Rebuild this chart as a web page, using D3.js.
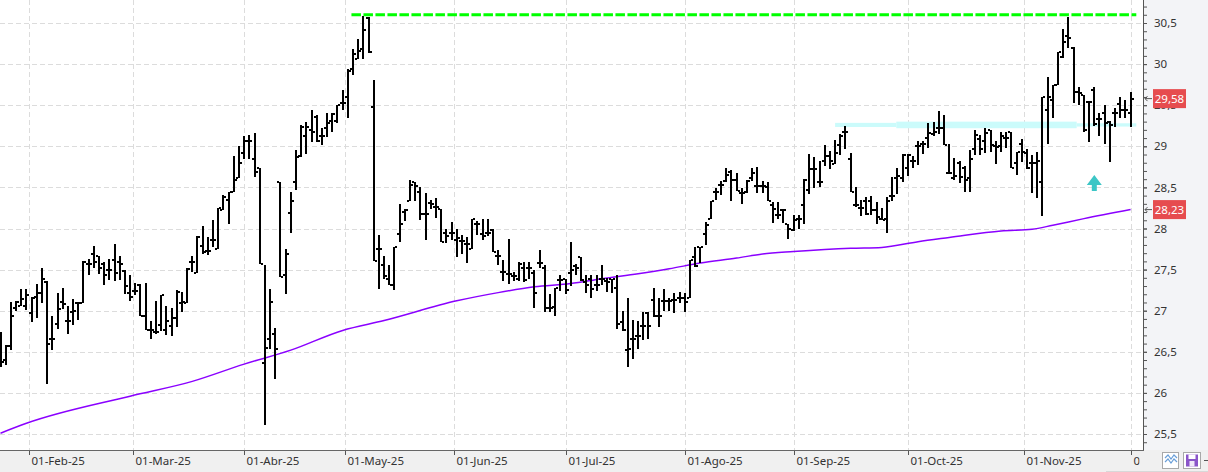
<!DOCTYPE html>
<html>
<head>
<meta charset="utf-8">
<script src="https://cdn.jsdelivr.net/npm/d3@7"></script>
<style>
  body { margin: 0; background: #fff; overflow: hidden; }
  svg { display: block; font-family: "Noto Sans", sans-serif; }
</style>
</head>
<body>
<svg width="1208" height="472"></svg>
<script>
// trading calendar (BME), first bar is 24-Jan-25
const firstDay = '2025-01-24';
const holidays = ['2025-04-18', '2025-04-21', '2025-05-01'];
const monthNames = ['Feb', 'Mar', 'Abr', 'May', 'Jun', 'Jul', 'Ago', 'Sep', 'Oct', 'Nov', 'Dic'];

// daily OHLC
const opens = [26.35,26.40,26.57,27.03,27.06,27.06,26.97,27.17,27.21,27.35,26.66,26.84,27.10,26.87,26.98,27.09,27.09,27.57,27.69,27.66,
  27.57,27.49,27.62,27.59,27.48,27.21,27.24,27.31,26.94,26.76,26.74,26.83,26.76,26.81,26.91,27.09,27.09,27.59,27.46,27.79,
  27.73,27.86,27.75,28.23,28.35,28.45,28.61,28.92,29.06,28.84,28.73,26.36,26.66,26.72,28.57,27.44,28.19,28.57,28.88,29.12,
  29.20,29.36,29.13,29.22,29.31,29.31,29.53,29.60,29.94,30.06,30.18,30.56,29.48,27.75,27.56,27.38,27.31,27.93,28.20,28.34,
  28.57,28.45,28.18,28.31,28.26,28.24,27.94,27.94,27.86,27.85,27.81,27.75,28.06,27.93,27.94,27.98,27.66,27.47,27.45,27.42,
  27.38,27.52,27.52,27.46,27.58,27.52,27.03,27.05,27.37,27.38,27.46,27.54,27.65,27.35,27.39,27.31,27.39,27.36,27.38,27.28,
  26.86,26.52,26.66,26.69,26.81,26.97,27.13,26.94,27.12,27.12,27.13,27.15,27.16,27.16,27.65,27.78,27.93,28.12,28.45,28.53,
  28.58,28.69,28.59,28.43,28.45,28.61,28.52,28.52,28.50,28.28,28.17,28.23,28.05,27.98,28.12,28.28,28.47,28.72,28.57,28.82,
  28.88,28.79,29.02,29.18,28.85,28.29,28.25,28.34,28.34,28.22,28.11,28.11,28.39,28.62,28.61,28.74,28.82,29.00,29.03,29.10,
  29.15,29.22,29.22,28.68,28.61,28.80,28.74,28.61,28.97,29.09,29.07,29.20,29.00,29.00,29.10,29.17,28.80,29.03,28.92,28.80,
  28.80,28.57,29.44,29.56,29.75,30.09,30.34,30.20,29.66,29.62,29.54,29.69,29.33,29.40,29.30,29.40,29.52,29.44,29.40];
const highs = [26.74,26.58,27.11,27.12,27.26,27.26,27.17,27.33,27.52,27.36,26.94,27.21,27.28,27.06,27.14,27.10,27.60,27.63,27.79,27.66,
  27.59,27.63,27.81,27.66,27.50,27.43,27.34,27.32,27.34,26.87,27.12,27.19,27.06,27.03,27.25,27.23,27.52,27.66,27.91,28.03,
  27.90,28.10,28.25,28.41,28.45,28.88,29.00,29.13,29.14,29.16,28.73,27.55,27.26,26.79,28.57,27.75,28.45,28.96,29.26,29.29,
  29.44,29.38,29.22,29.40,29.40,29.50,29.69,29.94,30.18,30.30,30.58,30.57,29.81,27.92,27.66,27.56,27.78,28.30,28.24,28.59,
  28.57,28.51,28.43,28.35,28.37,28.24,28.00,28.08,27.99,27.92,27.90,28.12,28.09,28.11,28.11,28.00,27.74,27.62,27.87,27.47,
  27.59,27.59,27.59,27.50,27.74,27.56,27.20,27.28,27.44,27.39,27.84,27.57,27.65,27.43,27.43,27.43,27.55,27.40,27.39,27.43,
  27.00,27.15,26.89,26.88,26.98,26.98,27.28,27.16,27.26,27.16,27.22,27.23,27.22,27.62,27.78,27.78,28.08,28.34,28.49,28.58,
  28.73,28.71,28.68,28.49,28.59,28.74,28.75,28.58,28.57,28.32,28.32,28.24,28.05,28.16,28.17,28.60,28.91,28.87,28.82,29.01,
  28.94,29.08,29.15,29.25,28.92,28.51,28.35,28.38,28.40,28.32,28.25,28.38,28.63,28.73,28.91,28.91,28.88,29.07,29.06,29.28,
  29.30,29.43,29.38,29.03,28.86,28.82,28.76,28.96,29.20,29.14,29.22,29.20,29.06,29.18,29.18,29.17,28.93,29.09,28.97,28.89,
  28.93,29.60,29.84,29.74,30.15,30.43,30.57,30.21,29.72,29.62,29.55,29.72,29.41,29.50,29.31,29.47,29.60,29.56,29.66];
const lows = [26.31,26.34,26.52,27.00,27.06,27.01,26.86,26.91,27.09,26.11,26.52,26.78,27.02,26.72,26.83,26.89,27.09,27.44,27.52,27.45,
  27.31,27.37,27.36,27.37,27.20,27.12,27.19,26.94,26.77,26.66,26.72,26.75,26.71,26.69,26.80,26.99,27.09,27.47,27.46,27.69,
  27.68,27.77,27.75,28.23,28.06,28.45,28.61,28.84,28.84,28.63,27.57,25.61,26.54,26.17,27.41,27.20,27.94,28.47,28.87,28.91,
  29.05,29.05,29.01,29.11,29.18,29.28,29.44,29.35,29.87,30.06,30.06,30.14,27.61,27.26,27.39,27.31,27.25,27.84,28.09,28.34,
  28.34,28.10,27.86,28.24,28.13,27.84,27.82,27.86,27.65,27.69,27.58,27.75,27.92,27.86,27.91,27.71,27.56,27.36,27.33,27.36,
  27.36,27.35,27.38,27.03,27.52,26.99,26.98,26.94,27.24,27.20,27.30,27.44,27.36,27.22,27.15,27.24,27.31,27.23,27.22,26.78,
  26.75,26.31,26.41,26.54,26.64,26.66,26.92,26.80,27.00,27.00,26.97,27.09,26.99,27.16,27.53,27.58,27.80,28.12,28.35,28.41,
  28.57,28.34,28.46,28.30,28.43,28.58,28.43,28.43,28.33,28.07,28.11,28.07,27.87,27.97,27.99,28.05,28.42,28.49,28.51,28.76,
  28.72,28.79,28.90,28.97,28.44,28.26,28.15,28.16,28.16,28.06,28.10,27.95,28.34,28.42,28.57,28.64,28.74,28.77,28.91,28.98,
  29.12,29.15,29.01,28.66,28.59,28.55,28.44,28.45,28.89,28.90,28.92,28.93,28.78,28.93,28.98,28.73,28.65,28.81,28.72,28.43,
  28.37,28.15,29.03,29.35,29.75,30.08,30.20,29.53,29.50,29.18,29.05,29.25,29.12,29.03,28.81,29.23,29.35,29.34,29.24];
const closes = [26.37,26.57,26.94,27.10,27.14,27.19,27.16,27.21,27.38,26.59,26.66,27.02,27.08,26.88,27.00,27.09,27.59,27.57,27.59,27.52,
  27.44,27.49,27.46,27.57,27.30,27.17,27.24,26.94,26.77,26.76,26.74,27.19,26.87,26.91,27.23,27.10,27.51,27.59,27.90,27.72,
  27.73,27.86,28.25,28.38,28.45,28.59,28.80,29.07,29.06,28.69,27.57,26.55,27.10,26.54,27.41,27.69,28.33,28.87,29.24,29.24,
  29.18,29.07,29.13,29.28,29.39,29.50,29.53,29.92,30.12,30.16,30.41,30.15,27.61,27.75,27.42,27.31,27.78,28.06,28.23,28.53,
  28.52,28.18,28.18,28.30,28.26,27.84,27.91,27.94,27.88,27.85,27.81,28.11,28.05,27.91,27.94,27.71,27.66,27.47,27.45,27.42,
  27.57,27.37,27.52,27.21,27.58,27.03,27.03,27.28,27.37,27.25,27.50,27.52,27.37,27.31,27.27,27.31,27.39,27.35,27.38,26.84,
  26.76,26.54,26.65,26.69,26.81,26.81,26.94,26.94,27.12,27.12,27.13,27.16,27.11,27.62,27.54,27.78,28.04,28.33,28.45,28.53,
  28.65,28.59,28.46,28.43,28.58,28.68,28.52,28.52,28.34,28.24,28.17,28.23,27.99,28.10,28.12,28.59,28.72,28.72,28.57,28.88,
  28.82,28.92,29.13,29.18,28.45,28.29,28.25,28.18,28.23,28.14,28.10,28.33,28.39,28.64,28.90,28.90,28.82,29.00,29.03,29.16,
  29.18,29.22,29.02,28.68,28.64,28.63,28.59,28.84,29.14,28.97,29.16,29.01,28.99,29.12,29.10,28.73,28.93,28.93,28.73,28.80,
  28.82,29.60,29.60,29.74,30.15,30.27,30.32,29.66,29.65,29.20,29.54,29.27,29.33,29.28,29.26,29.40,29.44,29.44,29.58];

// moving average, read at a set of bar indexes
const maDay = [0, 5, 25, 37, 47, 56, 66, 74, 88, 96, 103, 110, 116, 123, 129, 135, 142, 147, 153, 164, 170, 177, 183, 193, 199, 203, 209, 218];
const maValue = [25.51, 25.63, 25.96, 26.14, 26.35, 26.52, 26.76, 26.88, 27.12, 27.22, 27.29, 27.33, 27.39, 27.45, 27.51, 27.58, 27.64, 27.69, 27.72, 27.76, 27.77, 27.84, 27.89, 27.97, 27.99, 28.04, 28.12, 28.23];

// drawn objects
const resistanceLevel = 30.60;
const resistanceFrom = 67.7;
const resistanceTo = 219.1;
const zoneFrom = [161, 172.8, 207.6];
const zoneTo = [172.8, 207.6, 219.1];
const zoneLow = [29.235, 29.22, 29.24];
const zoneHigh = [29.285, 29.30, 29.28];
const signalDay = 211;
const signalPrice = 28.65;
const priceTags = [29.58, 28.23];

const svg = d3.select('svg');
const width = +svg.attr('width');
const height = +svg.attr('height');
const plotRight = 1143;
const plotBottom = 450;

// trading days
const parse = d3.utcParse('%Y-%m-%d');
const fmtDay = d3.utcFormat('%Y-%m-%d');
const days = [];
let d = parse(firstDay);
while (days.length < opens.length) {
  const wd = d.getUTCDay();
  if (wd !== 0 && wd !== 6 && !holidays.includes(fmtDay(d))) days.push(d);
  d = d3.utcDay.offset(d, 1);
}

const xScale = d3.scaleLinear().domain([0, opens.length - 1]).range([0.5, 1130.6]);
const yScale = d3.scaleLinear().domain([25.5, 30.5]).range([434, 23]);

// month ticks: first trading day of each month (half a bar earlier when the 1st is not a session)
const monthTicks = [];
monthNames.forEach((m, k) => {
  const first = new Date(Date.UTC(2025, k + 1, 1));
  const idx = days.findIndex(t => t >= first);
  if (idx < 0) return;
  const pos = fmtDay(days[idx]) === fmtDay(first) ? idx : idx - 0.5;
  monthTicks.push({ pos, label: '01-' + m + '-25' });
});

// backgrounds
svg.append('rect').attr('width', width).attr('height', height).attr('fill', '#fff');
svg.append('rect').attr('x', plotRight).attr('y', 0).attr('width', width - plotRight).attr('height', plotBottom).attr('fill', '#f3f4f7');
svg.append('rect').attr('x', 0).attr('y', plotBottom).attr('width', width).attr('height', height - plotBottom).attr('fill', '#f0f0f0');

svg.append('clipPath').attr('id', 'plot')
  .append('rect').attr('width', plotRight).attr('height', plotBottom);

const g = svg.append('g').attr('clip-path', 'url(#plot)');

// grid
const priceGrid = d3.range(25.5, 30.51, 0.5);
g.selectAll('.hgrid').data(priceGrid).enter().append('line')
  .attr('x1', 0).attr('x2', plotRight)
  .attr('y1', v => Math.round(yScale(v)) + 0.5).attr('y2', v => Math.round(yScale(v)) + 0.5)
  .attr('stroke', '#dcdcdc').attr('stroke-dasharray', '5,3');
g.selectAll('.vgrid').data(monthTicks).enter().append('line')
  .attr('y1', 0).attr('y2', plotBottom)
  .attr('x1', t => Math.round(xScale(t.pos)) + 0.5).attr('x2', t => Math.round(xScale(t.pos)) + 0.5)
  .attr('stroke', '#dcdcdc').attr('stroke-dasharray', '5,3');

// support zone
g.selectAll('.zone').data(zoneFrom).enter().append('rect')
  .attr('x', (f, i) => xScale(f))
  .attr('width', (f, i) => xScale(zoneTo[i]) - xScale(f))
  .attr('y', (f, i) => yScale(zoneHigh[i]))
  .attr('height', (f, i) => yScale(zoneLow[i]) - yScale(zoneHigh[i]))
  .attr('fill', '#cbfbfb');

// moving average
const maLine = d3.line()
  .x((v, i) => xScale(maDay[i]))
  .y(v => yScale(v))
  .curve(d3.curveMonotoneX);
g.append('path').datum(maValue)
  .attr('d', maLine)
  .attr('fill', 'none')
  .attr('stroke', '#8a00ff')
  .attr('stroke-width', 1.5);

// resistance
g.append('line')
  .attr('x1', xScale(resistanceFrom)).attr('x2', xScale(resistanceTo))
  .attr('y1', yScale(resistanceLevel)).attr('y2', yScale(resistanceLevel))
  .attr('stroke', '#00ff00').attr('stroke-width', 3).attr('stroke-dasharray', '9.5,2.5');

// OHLC bars
const bars = g.append('g').attr('shape-rendering', 'crispEdges').attr('fill', '#000');
const bx = i => Math.round(xScale(i));
bars.selectAll('.hl').data(opens).enter().append('rect')
  .attr('x', (o, i) => bx(i) - 1).attr('width', 2)
  .attr('y', (o, i) => Math.round(yScale(highs[i])))
  .attr('height', (o, i) => Math.max(2, Math.round(yScale(lows[i])) - Math.round(yScale(highs[i]))));
bars.selectAll('.op').data(opens).enter().append('rect')
  .attr('x', (o, i) => bx(i) - 3).attr('width', 2)
  .attr('y', o => Math.round(yScale(o)) - 1).attr('height', 2);
bars.selectAll('.cl').data(closes).enter().append('rect')
  .attr('x', (c, i) => bx(i) + 1).attr('width', 2)
  .attr('y', c => Math.round(yScale(c)) - 1).attr('height', 2);

// signal arrow
const sx = xScale(signalDay);
const sy = yScale(signalPrice);
g.append('path')
  .attr('d', `M${sx},${sy} L${sx + 7.5},${sy + 10} L${sx + 2.5},${sy + 10} L${sx + 2.5},${sy + 16} L${sx - 2.5},${sy + 16} L${sx - 2.5},${sy + 10} L${sx - 7.5},${sy + 10} Z`)
  .attr('fill', '#3cc6c6');

// right price axis
const fmtPrice = v => d3.format('~g')(v).replace('.', ',');
const minor = d3.range(253, 309).map(v => v / 10).filter(v => yScale(v) > 0 && yScale(v) < plotBottom);
const yMinor = d3.axisRight(yScale).tickValues(minor).tickSize(4).tickFormat('');
const yAxis = d3.axisRight(yScale).tickValues(priceGrid).tickSize(4).tickPadding(7).tickFormat(fmtPrice);
svg.append('g').attr('transform', `translate(${plotRight},0)`).call(yMinor)
  .call(a => a.select('.domain').remove())
  .call(a => a.selectAll('line').attr('stroke', '#555'));
svg.append('g').attr('transform', `translate(${plotRight},0)`).call(yAxis)
  .call(a => a.select('.domain').remove())
  .call(a => a.selectAll('line').attr('stroke', '#555'))
  .call(a => a.selectAll('text').attr('fill', '#333').style('font-size', '11.5px').style('font-family', '"Noto Sans", sans-serif'));
svg.append('line').attr('x1', plotRight + 0.5).attr('x2', plotRight + 0.5).attr('y1', 0).attr('y2', plotBottom)
  .attr('stroke', '#555');

// price tags
priceTags.forEach(p => {
  const ty = yScale(p);
  svg.append('path')
    .attr('d', `M${plotRight + 9},${ty} L${plotRight + 2},${ty} M${plotRight + 4.5},${ty - 2.5} L${plotRight + 2},${ty} L${plotRight + 4.5},${ty + 2.5}`)
    .attr('stroke', '#555').attr('fill', 'none');
  svg.append('rect').attr('x', 1153).attr('y', ty - 9.5).attr('width', 33).attr('height', 19).attr('fill', '#e64c4f');
  svg.append('text').attr('x', 1169.5).attr('y', ty + 4.2)
    .attr('text-anchor', 'middle').attr('fill', '#fff').style('font-size', '11.5px')
    .text(p.toFixed(2).replace('.', ','));
});

// bottom date axis (last label is cut by the axis corner, as in the platform)
svg.append('clipPath').attr('id', 'dates')
  .append('rect').attr('x', -5).attr('y', 0).attr('width', 1144).attr('height', height - plotBottom);
const xAxis = d3.axisBottom(xScale)
  .tickValues(monthTicks.map(t => t.pos))
  .tickFormat((v, i) => monthTicks[i].label)
  .tickSize(5).tickPadding(2);
svg.append('g').attr('transform', `translate(0.5,${plotBottom})`).attr('clip-path', 'url(#dates)')
  .call(xAxis)
  .call(a => a.select('.domain').remove())
  .call(a => a.selectAll('.tick').attr('transform', v => `translate(${Math.round(xScale(v))},0)`))
  .call(a => a.selectAll('line').attr('stroke', '#555'))
  .call(a => a.selectAll('text').attr('text-anchor', 'start').attr('x', 2).attr('fill', '#333')
    .style('font-size', '11.5px').style('font-family', '"Noto Sans", sans-serif'));
svg.append('line').attr('x1', 0).attr('x2', plotRight + 1).attr('y1', plotBottom + 0.5).attr('y2', plotBottom + 0.5)
  .attr('stroke', '#666');

// corner buttons
svg.append('line').attr('x1', 1106).attr('x2', width).attr('y1', 471.5).attr('y2', 471.5).attr('stroke', '#d8d8d8');
svg.append('rect').attr('x', 1162.5).attr('y', 452.5).attr('width', 16).attr('height', 16)
  .attr('fill', '#fff').attr('stroke', '#a8a8a8');
svg.append('path').attr('d', 'M1165,458 l3,-3 l3,4 l3,-4 l3,3 M1165,462 l3,-3 l3,4 l3,-4 l3,3')
  .attr('fill', 'none').attr('stroke', '#6a9fd8').attr('stroke-width', 1.2);
svg.append('rect').attr('x', 1183.5).attr('y', 452.5).attr('width', 17).attr('height', 16)
  .attr('fill', '#fff').attr('stroke', '#a8a8a8');
svg.append('rect').attr('x', 1186).attr('y', 454.5).attr('width', 12).attr('height', 12).attr('fill', '#8a55c9');
svg.append('rect').attr('x', 1188.5).attr('y', 454.5).attr('width', 7).attr('height', 4.5).attr('fill', '#fff');
svg.append('rect').attr('x', 1189.5).attr('y', 461).attr('width', 5).attr('height', 5.5).attr('fill', '#efe8f8');
svg.append('rect').attr('x', 1204).attr('y', 460).attr('width', 4).attr('height', 1).attr('fill', '#555');
</script>
</body>
</html>
